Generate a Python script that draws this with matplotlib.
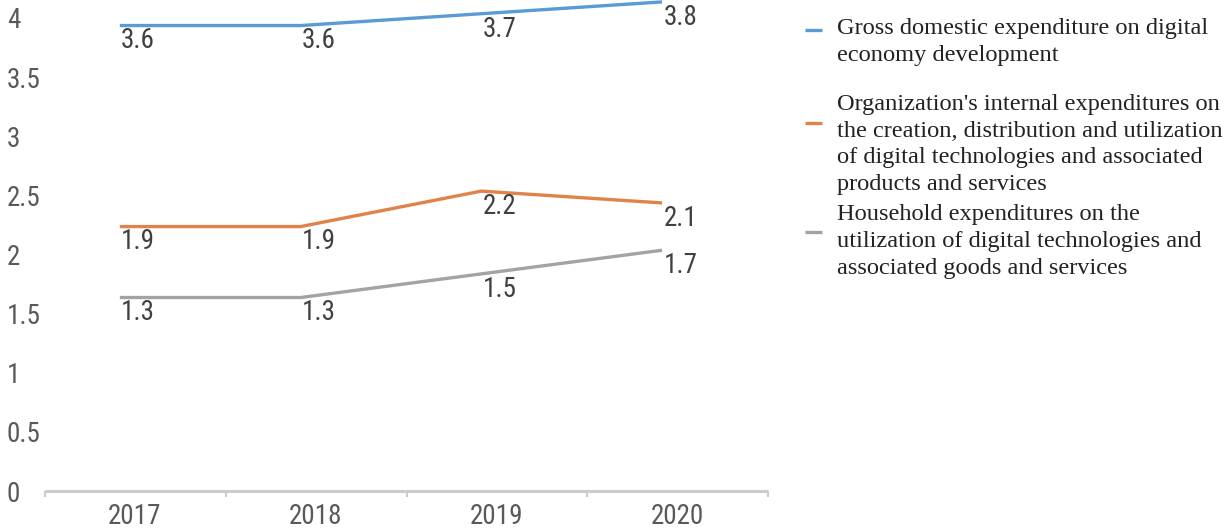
import matplotlib
matplotlib.use("Agg")
import matplotlib.pyplot as plt
from matplotlib import font_manager
from matplotlib.lines import Line2D
import numpy as np

# ---- data -------------------------------------------------------------
years = ["2017", "2018", "2019", "2020"]
gross_domestic = [3.6, 3.6, 3.7, 3.8]
organizations = [1.9, 1.9, 2.2, 2.1]
households = [1.3, 1.3, 1.5, 1.7]
y_tick_values = [0, 0.5, 1, 1.5, 2, 2.5, 3, 3.5, 4]
y_tick_labels = ["0", "0.5", "1", "1.5", "2", "2.5", "3", "3.5", "4"]

series_names = [
    ["Gross domestic expenditure on digital", "economy development"],
    ["Organization's internal expenditures on",
     "the creation, distribution and utilization",
     "of digital technologies and associated",
     "products and services"],
    ["Household expenditures on the",
     "utilization of digital technologies and",
     "associated goods and services"],
]
series_values = [gross_domestic, organizations, households]
series_colors = ["#5b9bd5", "#e0834a", "#a3a3a3"]


# ---- fonts ------------------------------------------------------------
def pick_font(candidates):
    for name in candidates:
        try:
            font_manager.findfont(font_manager.FontProperties(family=name),
                                  fallback_to_default=False)
            return name
        except Exception:
            continue
    return "DejaVu Sans"


narrow = pick_font(["Liberation Sans Narrow", "Arial Narrow", "Roboto Condensed",
                    "Liberation Sans"])
serif = pick_font(["Liberation Serif", "Times New Roman", "DejaVu Serif"])

W, H = 1232, 528
fig = plt.figure(figsize=(W / 100, H / 100), dpi=100)

# axes placement in pixels
ax_left, ax_right, ax_bottom, px_per_unit = 45, 768, 491, 119.0
x_lo, x_hi = -0.414, 3.58
y_lo = -0.31
y_hi = y_lo + ax_bottom / px_per_unit
ax = fig.add_axes([ax_left / W, (H - ax_bottom) / H,
                   (ax_right - ax_left) / W, ax_bottom / H])
ax.set_xlim(x_lo, x_hi)
ax.set_ylim(y_lo, y_hi)

x = np.arange(len(years))

for vals, col in zip(series_values, series_colors):
    ax.plot(x, vals, color=col, lw=2.4, solid_capstyle="butt", clip_on=False,
            zorder=3)
    for xi, v in zip(x, vals):
        ax.annotate(f"{v:.1f}", (xi, v), xytext=(1.0, -11.0),
                    textcoords="offset points", ha="left", va="center",
                    fontsize=19.5, family=narrow, color="#404040", zorder=4)

# spines
for s in ["top", "right", "left"]:
    ax.spines[s].set_visible(False)
ax.spines["bottom"].set_color("#cccccc")
ax.spines["bottom"].set_linewidth(2.2)
ax.spines["bottom"].set_capstyle("butt")

# category labels centred between boundary ticks
centers = x + 0.083
ax.set_xticks(centers)
ax.set_xticklabels(years, fontsize=19.5, family=narrow, color="#595959")
ax.tick_params(axis="x", which="major", length=0, pad=8.5)
ax.set_xticks(np.arange(len(years) + 1) + x_lo, minor=True)
ax.tick_params(axis="x", which="minor", length=4, width=1.5, color="#cccccc",
               direction="out")

# value axis labels
label_shift = 0.336
ax.set_yticks([t - label_shift for t in y_tick_values])
ax.set_yticklabels(y_tick_labels, fontsize=19.5, family=narrow, color="#595959",
                   ha="left")
ax.tick_params(axis="y", length=0, pad=27.4)

# ---- legend drawn beside the plot -----------------------------------
marker_y = [30, 123, 232]
line_baselines = [[34, 61], [110, 137, 163, 190], [220, 247, 274]]
for lines, col, my, bases in zip(series_names, series_colors, marker_y,
                                 line_baselines):
    fig.add_artist(Line2D([805 / W, 822 / W], [1 - my / H, 1 - my / H],
                          color=col, lw=2.4, solid_capstyle="butt"))
    for txt, b in zip(lines, bases):
        fig.text(837 / W, 1 - b / H, txt, ha="left", va="baseline",
                 fontsize=17.6, family=serif, color="#222222")

fig.savefig("out.png", dpi=100)
